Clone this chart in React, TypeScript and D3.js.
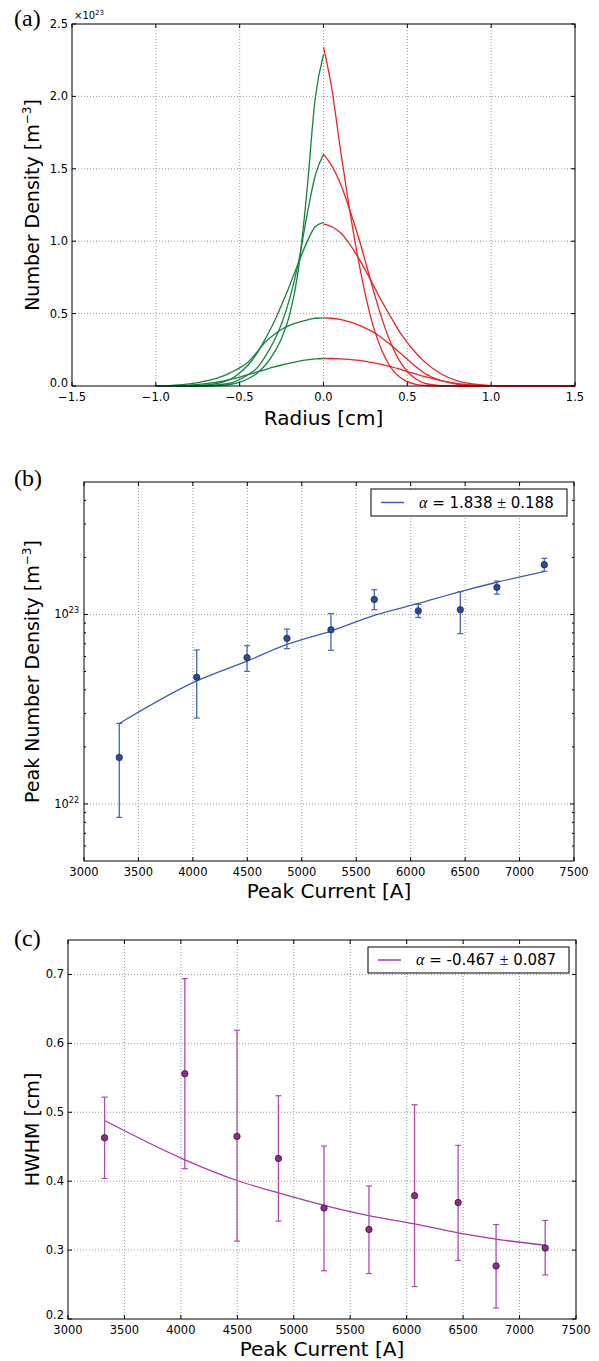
import React from "react";
import * as d3 from "d3";

// ---------- Panel (a): radial number-density profiles (×1e23 m^-3) ----------
const RADII_RIGHT = [0, 0.05, 0.1, 0.15, 0.2, 0.25, 0.3, 0.35, 0.4, 0.45, 0.5, 0.55, 0.6, 0.7, 0.8, 0.9, 1.0, 1.2, 1.5];
const RED_A = [2.34, 2.05, 1.64, 1.26, 0.92, 0.63, 0.40, 0.24, 0.13, 0.065, 0.03, 0.012, 0.004, 0, 0, 0, 0, 0, 0];
const RED_B = [1.60, 1.52, 1.40, 1.24, 1.06, 0.86, 0.65, 0.46, 0.30, 0.18, 0.10, 0.05, 0.02, 0.003, 0, 0, 0, 0, 0];
const RED_C = [1.12, 1.10, 1.06, 0.99, 0.90, 0.80, 0.69, 0.58, 0.48, 0.38, 0.30, 0.23, 0.17, 0.085, 0.035, 0.012, 0.003, 0, 0];
const RED_D = [0.47, 0.468, 0.46, 0.445, 0.425, 0.40, 0.37, 0.33, 0.285, 0.235, 0.185, 0.135, 0.09, 0.038, 0.012, 0.003, 0.001, 0, 0];
const RED_E = [0.19, 0.19, 0.188, 0.184, 0.178, 0.17, 0.16, 0.148, 0.134, 0.118, 0.10, 0.083, 0.066, 0.037, 0.017, 0.006, 0.001, 0, 0];

const RADII_LEFT = [0, -0.05, -0.1, -0.15, -0.2, -0.25, -0.3, -0.35, -0.4, -0.45, -0.5, -0.55, -0.6, -0.7, -0.8, -0.9, -1.0];
const GREEN_A = [2.29, 1.98, 1.33, 0.80, 0.50, 0.33, 0.22, 0.14, 0.085, 0.05, 0.027, 0.012, 0.005, 0, 0, 0, 0];
const GREEN_B = [1.60, 1.45, 1.17, 0.85, 0.61, 0.43, 0.30, 0.20, 0.12, 0.078, 0.045, 0.022, 0.012, 0.002, 0, 0, 0];
const GREEN_C = [1.13, 1.10, 0.99, 0.85, 0.70, 0.56, 0.43, 0.32, 0.22, 0.145, 0.09, 0.05, 0.027, 0.007, 0.001, 0, 0];
const GREEN_D = [0.47, 0.468, 0.455, 0.44, 0.42, 0.39, 0.35, 0.30, 0.23, 0.165, 0.125, 0.095, 0.068, 0.035, 0.014, 0.005, 0.001];
const GREEN_E = [0.19, 0.187, 0.18, 0.17, 0.158, 0.145, 0.13, 0.112, 0.095, 0.078, 0.062, 0.047, 0.034, 0.016, 0.006, 0.002, 0];

const A_XTICKS = [-1.5, -1.0, -0.5, 0.0, 0.5, 1.0, 1.5];
const A_YTICKS = [0.0, 0.5, 1.0, 1.5, 2.0, 2.5];

// ---------- Panels (b) and (c): vs peak current ----------
const CURRENT = [3324, 4035, 4497, 4864, 5268, 5666, 6070, 6456, 6792, 7227];

const DENSITY = [1.76e22, 4.66e22, 5.92e22, 7.48e22, 8.3e22, 1.2e23, 1.045e23, 1.06e23, 1.39e23, 1.83e23];
const DENSITY_HI = [2.66e22, 6.49e22, 6.84e22, 8.37e22, 1.01e23, 1.35e23, 1.13e23, 1.32e23, 1.5e23, 1.98e23];
const DENSITY_LO = [8.5e21, 2.84e22, 5.01e22, 6.6e22, 6.47e22, 1.06e23, 9.64e22, 7.92e22, 1.28e23, 1.69e23];
const DENSITY_FIT = [2.66e22, 4.46e22, 5.67e22, 6.95e22, 8.17e22, 9.89e22, 1.143e23, 1.321e23, 1.479e23, 1.683e23];

const HWHM = [0.463, 0.556, 0.465, 0.433, 0.361, 0.33, 0.379, 0.369, 0.277, 0.303];
const HWHM_HI = [0.522, 0.694, 0.619, 0.524, 0.451, 0.393, 0.511, 0.452, 0.337, 0.343];
const HWHM_LO = [0.404, 0.418, 0.313, 0.342, 0.27, 0.266, 0.247, 0.285, 0.216, 0.264];
const HWHM_FIT = [0.488, 0.431, 0.401, 0.383, 0.365, 0.350, 0.338, 0.325, 0.316, 0.307];

const CURRENT_TICKS = [3000, 3500, 4000, 4500, 5000, 5500, 6000, 6500, 7000, 7500];
const HWHM_TICKS = [0.2, 0.3, 0.4, 0.5, 0.6, 0.7];
const DENSITY_MAJOR = [1e22, 1e23];

const LEGEND_B = ["1.838", "0.188"];
const LEGEND_C = ["-0.467", "0.087"];

const SANS = "'DejaVu Sans', 'Liberation Sans', sans-serif";
const SERIF = "'Liberation Serif', 'DejaVu Serif', serif";
const TICK_FS = 11.5;
const LABEL_FS = 20;
const YLABEL_FS = 19;
const GRID = { stroke: "#858585", strokeWidth: 0.8, strokeDasharray: "1 2" };

const minus = (s: string) => s.replace("-", "\u2212");

type Box = { x0: number; x1: number; y0: number; y1: number };

function Frame({ b }: { b: Box }) {
  return <rect x={b.x0} y={b.y0} width={b.x1 - b.x0} height={b.y1 - b.y0} fill="none" stroke="#000" strokeWidth={1} />;
}

function XTicks({ b, xs, scale, labels, len = 4 }: { b: Box; xs: number[]; scale: (v: number) => number; labels?: string[]; len?: number }) {
  return (
    <g>
      {xs.map((v, i) => {
        const x = scale(v);
        return (
          <g key={i}>
            <line x1={x} x2={x} y1={b.y1} y2={b.y1 - len} stroke="#000" strokeWidth={1} />
            <line x1={x} x2={x} y1={b.y0} y2={b.y0 + len} stroke="#000" strokeWidth={1} />
            {labels && (
              <text x={x} y={b.y1 + 15} textAnchor="middle" fontFamily={SANS} fontSize={TICK_FS} fill="#000">
                {labels[i]}
              </text>
            )}
          </g>
        );
      })}
    </g>
  );
}

function YTicks({ b, ys, scale, len = 4 }: { b: Box; ys: number[]; scale: (v: number) => number; len?: number }) {
  return (
    <g>
      {ys.map((v, i) => {
        const y = scale(v);
        return (
          <g key={i}>
            <line x1={b.x0} x2={b.x0 + len} y1={y} y2={y} stroke="#000" strokeWidth={1} />
            <line x1={b.x1} x2={b.x1 - len} y1={y} y2={y} stroke="#000" strokeWidth={1} />
          </g>
        );
      })}
    </g>
  );
}

function Grid({ b, xs, ys, sx, sy }: { b: Box; xs: number[]; ys: number[]; sx: (v: number) => number; sy: (v: number) => number }) {
  return (
    <g>
      {xs.map((v, i) => (
        <line key={"gx" + i} x1={sx(v)} x2={sx(v)} y1={b.y0} y2={b.y1} {...GRID} />
      ))}
      {ys.map((v, i) => (
        <line key={"gy" + i} x1={b.x0} x2={b.x1} y1={sy(v)} y2={sy(v)} {...GRID} />
      ))}
    </g>
  );
}

function ErrorPlot({
  xs, ys, lo, hi, fit, sx, sy, lineColor, barColor, fill, edge,
}: {
  xs: number[]; ys: number[]; lo: number[]; hi: number[]; fit: number[];
  sx: (v: number) => number; sy: (v: number) => number;
  lineColor: string; barColor: string; fill: string; edge: string;
}) {
  const line = d3
    .line<number>()
    .x((_, i) => sx(xs[i]))
    .y((d) => sy(d))
    .curve(d3.curveMonotoneX);
  return (
    <g>
      <path d={line(fit) || ""} fill="none" stroke={lineColor} strokeWidth={1.3} />
      {xs.map((x, i) => {
        const px = sx(x);
        return (
          <g key={i}>
            <line x1={px} x2={px} y1={sy(lo[i])} y2={sy(hi[i])} stroke={barColor} strokeWidth={1.3} />
            <line x1={px - 3} x2={px + 3} y1={sy(lo[i])} y2={sy(lo[i])} stroke={barColor} strokeWidth={1.2} />
            <line x1={px - 3} x2={px + 3} y1={sy(hi[i])} y2={sy(hi[i])} stroke={barColor} strokeWidth={1.2} />
          </g>
        );
      })}
      {xs.map((x, i) => (
        <circle key={"p" + i} cx={sx(x)} cy={sy(ys[i])} r={3.2} fill={fill} stroke={edge} strokeWidth={0.8} />
      ))}
    </g>
  );
}

function Legend({ x, y, w, h, color, vals }: { x: number; y: number; w: number; h: number; color: string; vals: string[] }) {
  const cy = y + h / 2;
  return (
    <g>
      <rect x={x} y={y} width={w} height={h} fill="#fff" stroke="#000" strokeWidth={1} />
      <line x1={x + 10} x2={x + 33} y1={cy} y2={cy} stroke={color} strokeWidth={1.5} />
      <text x={x + 48} y={cy + 5} fontFamily={SANS} fontSize={15} fill="#000">
        <tspan fontFamily={SERIF} fontStyle="italic" fontSize={16}>{"\u03b1"}</tspan>
        <tspan>{" = " + vals[0] + " "}</tspan>
        <tspan fontFamily={SERIF} fontSize={16}>{"\u00b1"}</tspan>
        <tspan>{" " + vals[1]}</tspan>
      </text>
    </g>
  );
}

export default function App() {
  const W = 599;
  const H = 1361;

  // ---------------- Panel (a) ----------------
  const bA: Box = { x0: 72, x1: 575, y0: 24, y1: 386 };
  const ax = d3.scaleLinear().domain([-1.5, 1.5]).range([bA.x0, bA.x1]);
  const ay = d3.scaleLinear().domain([0, 2.5]).range([bA.y1, bA.y0]);
  const profLine = (rs: number[]) =>
    d3
      .line<number>()
      .x((_, i) => ax(rs[i]))
      .y((d) => ay(d))
      .curve(d3.curveMonotoneX);
  const redCurves = [RED_A, RED_B, RED_C, RED_D, RED_E];
  const greenCurves = [GREEN_A, GREEN_B, GREEN_C, GREEN_D, GREEN_E];
  const redGen = profLine(RADII_RIGHT);
  const greenRs = RADII_LEFT.slice().reverse();
  const greenGen = profLine(greenRs);

  // ---------------- Panel (b) ----------------
  const bB: Box = { x0: 84, x1: 574, y0: 482, y1: 861 };
  const bx = d3.scaleLinear().domain([3000, 7500]).range([bB.x0, bB.x1]);
  const by = d3.scaleLog().domain([5e21, 5e23]).range([bB.y1, bB.y0]);
  const minorB: number[] = [];
  for (const dec of [1e21, 1e22, 1e23]) {
    for (let k = 2; k <= 9; k++) {
      const v = k * dec;
      if (v > 5e21 && v < 5e23) minorB.push(v);
    }
  }

  // ---------------- Panel (c) ----------------
  const bC: Box = { x0: 68, x1: 576, y0: 940, y1: 1319 };
  const cx = d3.scaleLinear().domain([3000, 7500]).range([bC.x0, bC.x1]);
  const cy = d3.scaleLinear().domain([0.2, 0.75]).range([bC.y1, bC.y0]);

  const gridX = CURRENT_TICKS.filter((t) => t > 3000 && t < 7500);

  return (
    <svg width={W} height={H} style={{ position: "absolute", left: 0, top: 0, background: "#fff" }}>
      <rect x={0} y={0} width={W} height={H} fill="#fff" />

      {/* ===== Panel (a) ===== */}
      <text x={14} y={26} fontFamily={SERIF} fontSize={24} fill="#000">(a)</text>
      <Grid b={bA} xs={A_XTICKS.slice(1, -1)} ys={A_YTICKS.slice(1, -1)} sx={ax} sy={ay} />
      <g>
        {greenCurves.map((vals, i) => (
          <path key={"g" + i} d={greenGen(vals.slice().reverse()) || ""} fill="none" stroke="#12843f" strokeWidth={1.3} />
        ))}
        {redCurves.map((vals, i) => (
          <path key={"r" + i} d={redGen(vals) || ""} fill="none" stroke="#ee2229" strokeWidth={1.3} />
        ))}
      </g>
      <Frame b={bA} />
      <XTicks b={bA} xs={A_XTICKS} scale={ax} labels={A_XTICKS.map((v) => minus(v.toFixed(1)))} />
      <YTicks b={bA} ys={A_YTICKS} scale={ay} />
      {A_YTICKS.map((v, i) => (
        <text key={i} x={bA.x0 - 4} y={ay(v) + (i === 0 ? 1 : 4)} textAnchor="end" fontFamily={SANS} fontSize={TICK_FS}>
          {v.toFixed(1)}
        </text>
      ))}
      <text x={bA.x0 + 2} y={bA.y0 - 5} fontFamily={SANS} fontSize={10}>
        {"\u00d710"}
        <tspan dy={-4} fontSize={7}>23</tspan>
      </text>
      <text x={ax(0)} y={bA.y1 + 39} textAnchor="middle" fontFamily={SANS} fontSize={LABEL_FS}>Radius [cm]</text>
      <text transform={`translate(39,${(bA.y0 + bA.y1) / 2}) rotate(-90)`} textAnchor="middle" fontFamily={SANS} fontSize={YLABEL_FS}>
        Number Density [m<tspan dy={-8} fontSize={12}>{"\u22123"}</tspan><tspan dy={8}>]</tspan>
      </text>

      {/* ===== Panel (b) ===== */}
      <text x={14} y={486} fontFamily={SERIF} fontSize={24} fill="#000">(b)</text>
      <Grid b={bB} xs={gridX} ys={DENSITY_MAJOR} sx={bx} sy={by} />
      <ErrorPlot xs={CURRENT} ys={DENSITY} lo={DENSITY_LO} hi={DENSITY_HI} fit={DENSITY_FIT} sx={bx} sy={by}
        lineColor="#3f5cb3" barColor="#4564b8" fill="#2d4a94" edge="#1b2c5a" />
      <Frame b={bB} />
      <XTicks b={bB} xs={CURRENT_TICKS} scale={bx} labels={CURRENT_TICKS.map(String)} />
      <YTicks b={bB} ys={DENSITY_MAJOR} scale={by} />
      <YTicks b={bB} ys={minorB} scale={by} len={2} />
      {DENSITY_MAJOR.map((v, i) => (
        <text key={i} x={bB.x0 - 5} y={by(v) + 4} textAnchor="end" fontFamily={SANS} fontSize={TICK_FS}>
          10<tspan dy={-5} fontSize={8}>{String(Math.round(Math.log10(v)))}</tspan>
        </text>
      ))}
      <Legend x={371} y={489} w={196} h={27} color="#3f5cb3" vals={LEGEND_B} />
      <text x={(bB.x0 + bB.x1) / 2} y={bB.y1 + 37} textAnchor="middle" fontFamily={SANS} fontSize={LABEL_FS}>Peak Current [A]</text>
      <text transform={`translate(39,${(bB.y0 + bB.y1) / 2}) rotate(-90)`} textAnchor="middle" fontFamily={SANS} fontSize={YLABEL_FS}>
        Peak Number Density [m<tspan dy={-8} fontSize={12}>{"\u22123"}</tspan><tspan dy={8}>]</tspan>
      </text>

      {/* ===== Panel (c) ===== */}
      <text x={14} y={946} fontFamily={SERIF} fontSize={24} fill="#000">(c)</text>
      <Grid b={bC} xs={gridX} ys={HWHM_TICKS.slice(1)} sx={cx} sy={cy} />
      <ErrorPlot xs={CURRENT} ys={HWHM} lo={HWHM_LO} hi={HWHM_HI} fit={HWHM_FIT} sx={cx} sy={cy}
        lineColor="#a83aa1" barColor="#b24bab" fill="#8d2e86" edge="#3a1238" />
      <Frame b={bC} />
      <XTicks b={bC} xs={CURRENT_TICKS} scale={cx} labels={CURRENT_TICKS.map(String)} />
      <YTicks b={bC} ys={HWHM_TICKS} scale={cy} />
      {HWHM_TICKS.map((v, i) => (
        <text key={i} x={bC.x0 - 4} y={cy(v) + (i === 0 ? 0 : 4)} textAnchor="end" fontFamily={SANS} fontSize={TICK_FS}>
          {v.toFixed(1)}
        </text>
      ))}
      <Legend x={368} y={947} w={201} h={26} color="#a83aa1" vals={LEGEND_C} />
      <text x={(bC.x0 + bC.x1) / 2} y={bC.y1 + 37} textAnchor="middle" fontFamily={SANS} fontSize={LABEL_FS}>Peak Current [A]</text>
      <text transform={`translate(39,${(bC.y0 + bC.y1) / 2}) rotate(-90)`} textAnchor="middle" fontFamily={SANS} fontSize={YLABEL_FS}>
        HWHM [cm]
      </text>
    </svg>
  );
}
